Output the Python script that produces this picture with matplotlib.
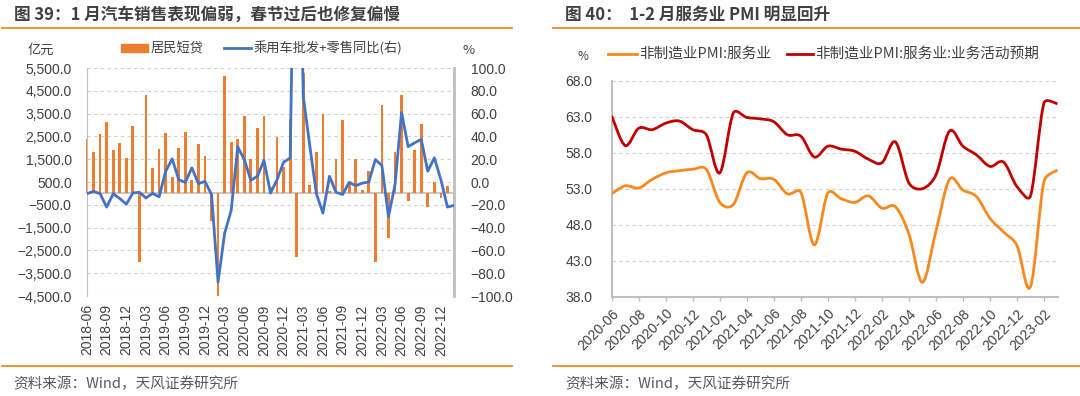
import numpy as np
import matplotlib
matplotlib.use("Agg")
import matplotlib.pyplot as plt
from matplotlib.path import Path
from matplotlib.patches import PathPatch, Rectangle
from matplotlib.lines import Line2D
import pandas as pd

plt.rcParams['font.family'] = ['Liberation Sans', 'Noto Sans CJK SC']
plt.rcParams['axes.unicode_minus'] = True

# ---------------- data: left chart ----------------
months_left = [p.strftime('%Y-%m') for p in pd.period_range('2018-06', '2023-02', freq='M')]
# 居民短贷 (亿元), 2018-06 .. 2023-01
household_short_loans = [
    2400, 1800, 2600, 3150, 1900, 2200, 1550,
    2950, -3000, 4300, 1100, 1950, 2650, 700, 2000, 2700, 600, 2150, 1620,
    -1200, -4500, 5150, 2270, 2390, 3400, 1500, 2850, 3400, 300, 2480, 1150,
    3250, -2780, 5260, 350, 1820, 3500, 100, 1520, 3200, 450, 1520, 150,
    1000, -3000, 3870, -1950, 1820, 4300, -350, 1920, 3030, -600, 500, -200,
    320,
]
# 乘用车批发+零售同比 (%), 2018-06 .. 2023-02
car_sales_yoy = [
    -10.3, -8.2, -10.3, -22.0, -10.3, -14.5, -19.5,
    -9.7, -9.0, -14.0, -10.0, -13.0, 9.4, 20.3, 2.0, -0.3, 12.4, -1.5, 0.6,
    -11.0, -87.7, -45.0, -25.0, 30.9, 19.7, 1.5, 5.0, 19.0, -9.7, 2.0, 17.4,
    21.0, 370.0, 75.0, 31.5, -10.3, -27.3, 5.0, -9.0, -11.0, -0.3, -3.2, -1.0,
    0.0, 19.7, 14.4, -30.3, -2.4, 61.0, 31.0, 34.4, 37.4, 9.4, 21.2, 2.0,
    -22.0, -20.5,
]
left_ticks = [-4500, -3500, -2500, -1500, -500, 500, 1500, 2500, 3500, 4500, 5500]
right_ticks = [-100, -80, -60, -40, -20, 0, 20, 40, 60, 80, 100]

# ---------------- data: right chart ----------------
months_right = [p.strftime('%Y-%m') for p in pd.period_range('2020-06', '2023-03', freq='M')]
services_pmi = [
    52.3, 53.4, 53.1, 54.3, 55.2, 55.5, 55.7, 55.7, 51.1, 50.8, 55.2, 54.4,
    54.3, 52.3, 52.5, 45.2, 52.4, 51.6, 51.1, 52.0, 50.3, 50.5, 46.7, 40.0,
    47.1, 54.3, 52.8, 51.9, 48.9, 47.0, 45.1, 39.4, 54.0, 55.6,
]
services_expect = [
    63.1, 59.0, 61.4, 61.2, 62.1, 62.4, 61.2, 60.5, 55.2, 63.5, 62.9, 62.7,
    62.3, 60.5, 60.3, 57.4, 58.9, 58.5, 58.2, 57.1, 56.6, 59.5, 53.8, 53.0,
    54.9, 61.0, 58.9, 57.7, 56.1, 56.7, 53.3, 52.0, 64.9, 64.8,
]
pmi_ticks = [38, 43, 48, 53, 58, 63, 68]

# ---------------- styles ----------------
ORANGE_BAR = '#ED7D31'
BLUE = '#4472C4'
ORANGE_LINE = '#F7891E'
RED = '#C00000'
RULE = '#F08A24'
AXC = '#BFBFBF'
GRIDC = '#D0D0D0'
TXT = '#404040'
CJK = ['Noto Sans CJK SC', 'Liberation Sans']

W, H = 1080, 396
fig = plt.figure(figsize=(W / 100, H / 100), dpi=100)


def fx(x):
    return x / W


def fy(y):
    return 1 - y / H


def rect(x0, y0, x1, y1):
    return [fx(x0), fy(y1), (x1 - x0) / W, (y1 - y0) / H]


def fmt(v, thousands=True):
    s = f"{abs(v):,.1f}" if thousands else f"{abs(v):.1f}"
    return ('\u2212' + s) if v < 0 else s


def smooth_path(xs, ys, sx, sy):
    """Excel-like smoothed line: cubic Bezier segments with capped handles.
    sx, sy: pixels per data unit (used so the cap works in screen space)."""
    P = np.column_stack([np.asarray(xs, float) * sx, np.asarray(ys, float) * sy])
    n = len(P)
    verts = [P[0]]
    codes = [Path.MOVETO]

    def handle(i, seg_len):
        a = P[i - 1] if i > 0 else P[i]
        b = P[i + 1] if i < n - 1 else P[i]
        t = (b - a) / 6.0
        L = np.hypot(*t)
        cap = 0.45 * seg_len
        if L > cap and L > 0:
            t = t * cap / L
        return t

    for i in range(n - 1):
        seg = np.hypot(*(P[i + 1] - P[i]))
        c1 = P[i] + handle(i, seg)
        c2 = P[i + 1] - handle(i + 1, seg)
        verts += [c1, c2, P[i + 1]]
        codes += [Path.CURVE4] * 3
    V = np.array(verts)
    V[:, 0] /= sx
    V[:, 1] /= sy
    return Path(V, codes)


# ---------------- decorations ----------------
for (x0, x1) in [(2, 512), (553, 1080)]:
    fig.add_artist(Line2D([fx(x0), fx(x1)], [fy(28.3), fy(28.3)], color=RULE, lw=1.3))
    fig.add_artist(Line2D([fx(x0), fx(x1)], [fy(365.7), fy(365.7)], color=RULE, lw=1.3))

fig.text(fx(14), fy(14.5), '图 39：1 月汽车销售表现偏弱，春节过后也修复偏慢', family=CJK,
         fontsize=12, fontweight='bold', color=TXT, va='center', ha='left')
fig.text(fx(565), fy(14.5), '图 40：  1-2 月服务业 PMI 明显回升', family=CJK,
         fontsize=12, fontweight='bold', color=TXT, va='center', ha='left')
fig.text(fx(13), fy(384), '资料来源：Wind，天风证券研究所', family=CJK,
         fontsize=10.5, color='#595959', va='center', ha='left')
fig.text(fx(565), fy(384), '资料来源：Wind，天风证券研究所', family=CJK,
         fontsize=10.5, color='#595959', va='center', ha='left')

# ---------------- left chart ----------------
ax1 = fig.add_axes(rect(87, 68, 454, 296))
xl = np.arange(len(months_left))
bars = ax1.bar(xl[:len(household_short_loans)], household_short_loans, width=0.42,
               color=ORANGE_BAR, zorder=2)
for b in bars:
    b.set_clip_on(False)
ax1.set_xlim(0, len(months_left) - 1)
ax1.set_ylim(-4500, 5500)
ax1.set_yticks(left_ticks)
ax1.set_yticklabels([fmt(v) for v in left_ticks])
ax1.yaxis.grid(True, linestyle=(0, (3, 3)), color=GRIDC, lw=0.8)
ax1.set_axisbelow(True)
ax1.axhline(0, color=AXC, lw=1.2, zorder=1.5)
for s in ['top', 'bottom', 'right']:
    ax1.spines[s].set_visible(False)
ax1.spines['left'].set_color(AXC)
ax1.tick_params(axis='y', length=0, pad=11, labelsize=10, labelcolor=TXT)
ax1.set_xticks(xl[::3])
ax1.set_xticklabels(months_left[::3], rotation=90)
ax1.tick_params(axis='x', length=0, pad=6, labelsize=10, labelcolor=TXT)

ax2 = ax1.twinx()
ax2.plot(xl, car_sales_yoy, color=BLUE, lw=2, zorder=3)
ax2.set_ylim(-100, 100)
ax2.set_yticks(right_ticks)
ax2.set_yticklabels([fmt(v, False) for v in right_ticks])
for s in ['top', 'bottom', 'left']:
    ax2.spines[s].set_visible(False)
ax2.spines['right'].set_color(AXC)
ax2.spines['right'].set_linewidth(2)
ax2.tick_params(axis='y', length=0, pad=12, labelsize=10, labelcolor=TXT)

fig.text(fx(28), fy(50), '亿元', family=CJK, fontsize=9.5, color=TXT, va='center')
fig.text(fx(469), fy(50), '%', family=CJK, fontsize=9.5, color=TXT, va='center', ha='center')
fig.add_artist(Rectangle((fx(121), fy(52)), (148 - 121) / W, 8 / H, color=ORANGE_BAR))
fig.text(fx(151), fy(48.5), '居民短贷', family=CJK, fontsize=9.5, color=TXT, va='center')
fig.add_artist(Line2D([fx(224), fx(251)], [fy(48), fy(48)], color=BLUE, lw=2))
fig.text(fx(254), fy(48.5), '乘用车批发+零售同比(右)', family=CJK, fontsize=9.5, color=TXT, va='center')

# ---------------- right chart ----------------
r3 = rect(611.7, 80.7, 1057.5, 296.7)
ax3 = fig.add_axes(r3)
xr = np.arange(len(services_pmi))
sx = (1057.5 - 611.7) / (len(services_pmi) - 1)
sy = (296.7 - 80.7) / (68 - 38)
ax3.add_patch(PathPatch(smooth_path(xr, services_pmi, sx, sy), fill=False,
                        edgecolor=ORANGE_LINE, lw=2, zorder=3))
ax3.add_patch(PathPatch(smooth_path(xr, services_expect, sx, sy), fill=False,
                        edgecolor=RED, lw=2, zorder=3))
ax3.set_xlim(0, len(services_pmi) - 1)
ax3.set_ylim(38, 68)
ax3.set_yticks(pmi_ticks)
ax3.set_yticklabels([fmt(v, False) for v in pmi_ticks])
ax3.yaxis.grid(True, linestyle=(0, (3, 3)), color=GRIDC, lw=0.8)
ax3.set_axisbelow(True)
for s in ['top', 'right']:
    ax3.spines[s].set_visible(False)
ax3.spines['left'].set_color(AXC)
ax3.spines['bottom'].set_color(AXC)
ax3.spines['left'].set_linewidth(1.5)
ax3.spines['bottom'].set_linewidth(1.5)
ax3.tick_params(axis='y', length=0, pad=14, labelsize=10, labelcolor=TXT)
ax3.set_xticks(xr[::2][:17])
ax3.set_xticklabels(months_right[::2][:17], rotation=45, ha='right', rotation_mode='anchor')
ax3.tick_params(axis='x', length=3, width=1, color=AXC, pad=4, labelsize=10, labelcolor=TXT)

fig.text(fx(583), fy(57), '%', family=CJK, fontsize=8.5, color=TXT, va='center', ha='center')
fig.add_artist(Line2D([fx(608), fx(637)], [fy(54), fy(54)], color=ORANGE_LINE, lw=2))
fig.text(fx(639), fy(54), '非制造业PMI:服务业', family=CJK, fontsize=10.5, color=TXT, va='center')
fig.add_artist(Line2D([fx(787), fx(813)], [fy(54), fy(54)], color=RED, lw=2))
fig.text(fx(815), fy(54), '非制造业PMI:服务业:业务活动预期', family=CJK, fontsize=10.5,
         color=TXT, va='center')

fig.savefig('out.png', dpi=100)
